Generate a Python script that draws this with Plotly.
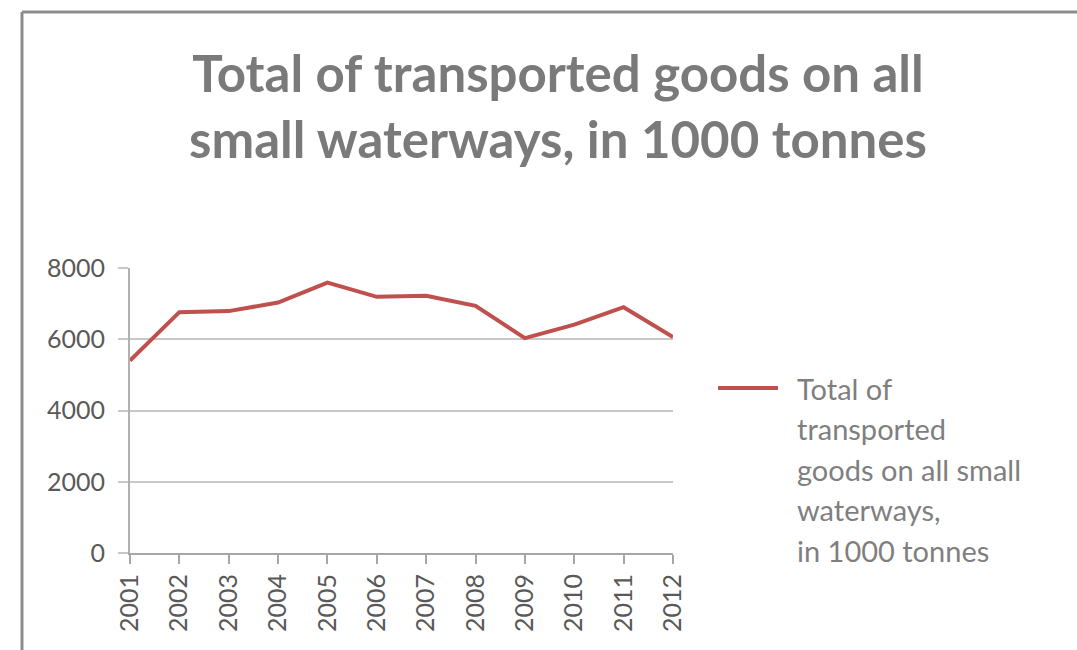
import plotly.graph_objects as go

# ---- data ----
years = [2001, 2002, 2003, 2004, 2005, 2006, 2007, 2008, 2009, 2010, 2011, 2012]
goods = [5400, 6760, 6790, 7030, 7590, 7190, 7220, 6940, 6030, 6410, 6900, 6060]
y_ticks = [0, 2000, 4000, 6000, 8000]
title_text = "Total of transported goods on all<br>small waterways, in 1000 tonnes"
series_name = "Total of transported goods on all small waterways, in 1000 tonnes"
legend_lines = ["Total of", "transported", "goods on all small", "waterways,", "in 1000 tonnes"]

W, H = 1077, 650
PL, PR, PT, PB = 130, 673, 268, 553   # plot area in pixels


def px(x):
    return (x - PL) / (PR - PL)


def py(y):
    return (PB - y) / (PB - PT)


RED = "#C0504D"
FONT = "Lato"

fig = go.Figure()
fig.add_trace(go.Scatter(
    x=years, y=goods, mode="lines", name=series_name,
    line=dict(color=RED, width=4), showlegend=False,
))

fig.update_layout(
    width=W, height=H,
    margin=dict(l=PL, r=W - PR, t=PT, b=H - PB),
    paper_bgcolor="white", plot_bgcolor="white",
    font=dict(family=FONT),
    title=dict(
        text=title_text, x=558 / W, xanchor="center", xref="container",
        y=1 - 92 / H, yanchor="top", yref="container",
        font=dict(family=FONT, size=51, color="#7a7a7a", weight="bold"),
    ),
    xaxis=dict(
        range=[years[0], years[-1]], tickmode="array", tickvals=years,
        ticktext=[str(v) for v in years], tickangle=-90,
        showgrid=False, zeroline=False,
        showline=True, linecolor="#a6a6a6", linewidth=2,
        ticks="outside", ticklen=9, tickcolor="#a6a6a6", tickwidth=2,
        tickfont=dict(family=FONT, size=25, color="#595959"),
    ),
    yaxis=dict(
        range=[0, 8000], tickmode="array", tickvals=y_ticks,
        showgrid=True, gridcolor="#c8c8c8", gridwidth=2, zeroline=False,
        showline=True, linecolor="#b0b0b0", linewidth=2,
        ticks="outside", ticklen=10, tickcolor="#c8c8c8", tickwidth=2,
        tickfont=dict(family=FONT, size=25, color="#595959"),
        ticklabelstandoff=8,
    ),
)

# outer frame (open on the right, as in the reference crop)
fig.add_shape(type="line", xref="paper", yref="paper",
              x0=px(22), x1=px(22), y0=py(12), y1=py(660),
              line=dict(color="#8c8c8c", width=3))
fig.add_shape(type="line", xref="paper", yref="paper",
              x0=px(22), x1=px(1090), y0=py(12), y1=py(12),
              line=dict(color="#8c8c8c", width=3))

# legend swatch and text
fig.add_shape(type="line", xref="paper", yref="paper",
              x0=px(718), x1=px(778), y0=py(388), y1=py(388),
              line=dict(color=RED, width=4))
for i, line in enumerate(legend_lines):
    fig.add_annotation(
        text=line, xref="paper", yref="paper",
        x=px(795), y=py(388 + 40.5 * i), xanchor="left", yanchor="middle",
        showarrow=False, font=dict(family=FONT, size=29, color="#7f7f7f"),
    )

fig.write_html("out.html")
